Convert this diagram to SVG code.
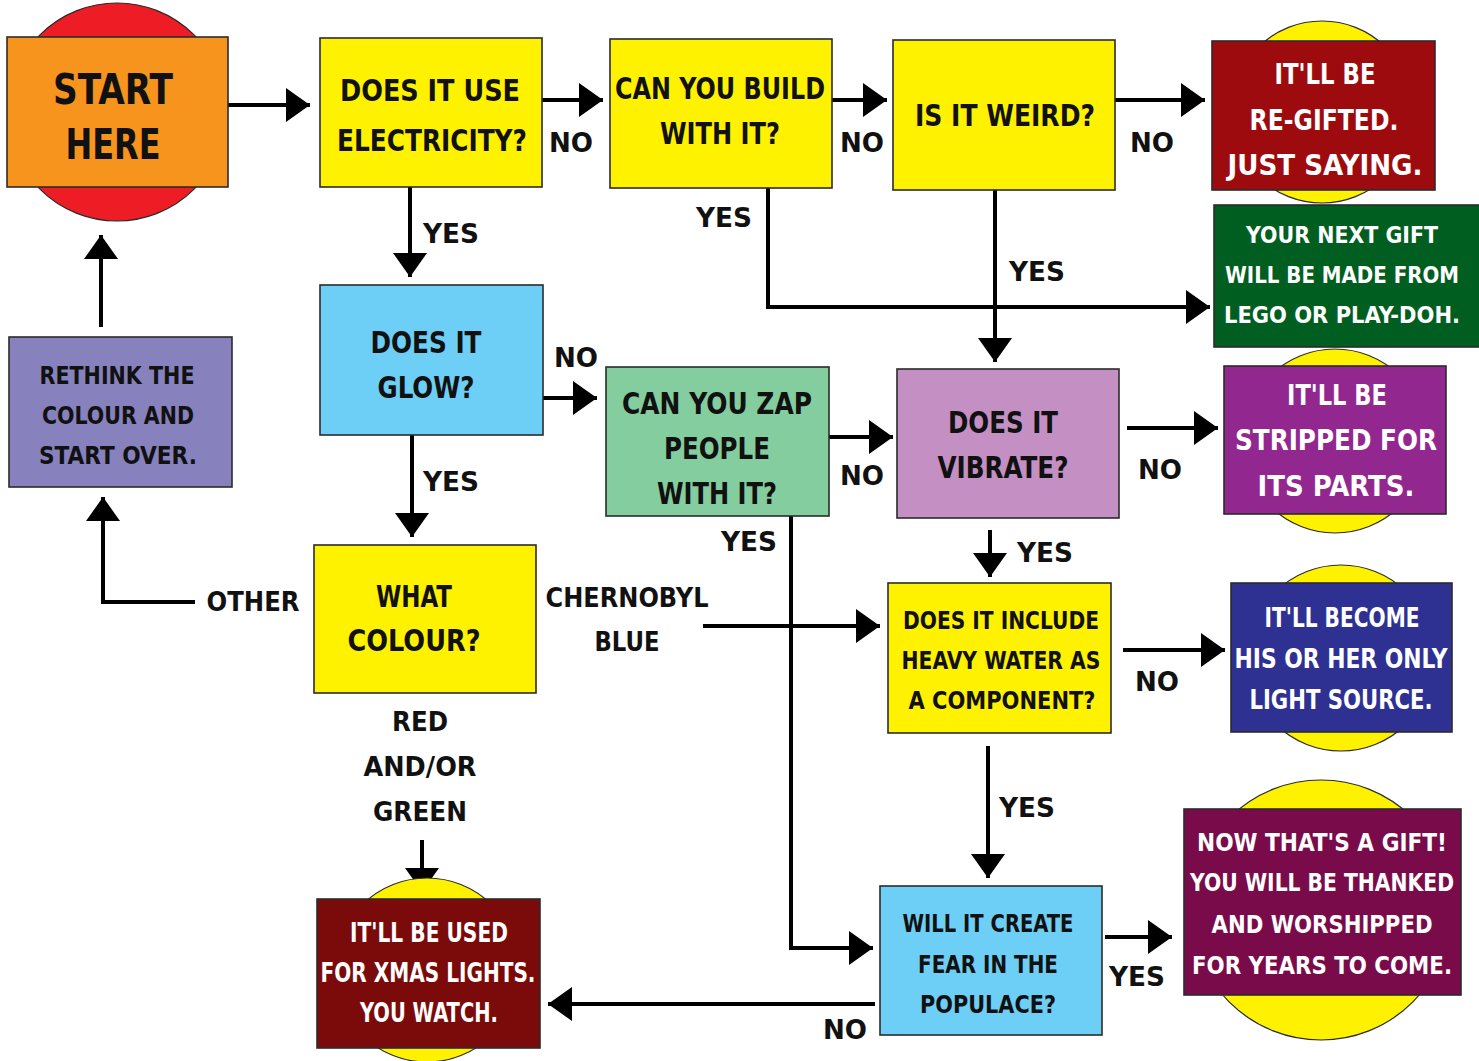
<svg xmlns="http://www.w3.org/2000/svg" width="1479" height="1061" viewBox="0 0 1479 1061">
<style>
  .box { stroke: #2b2b2b; stroke-width: 1.6; }
  .disc { stroke: #2b2b2b; stroke-width: 1.2; }
  .t { font-family: "DejaVu Sans Condensed", "DejaVu Sans", sans-serif; font-weight: bold; text-anchor: middle; dominant-baseline: central; fill: #111; }
  .w { fill: #ffffff; }
  .lbl { font-family: "DejaVu Sans Condensed", "DejaVu Sans", sans-serif; font-weight: bold; text-anchor: middle; dominant-baseline: central; fill: #111; font-size: 26px; }
  .c { fill: none; stroke: #000; stroke-width: 4; }
</style>
<defs>
  <marker id="ah" markerUnits="userSpaceOnUse" markerWidth="26" markerHeight="36" refX="24" refY="17" orient="auto">
    <path d="M0,0 L24,17 L0,34 z" fill="#000"/>
  </marker>
</defs>
<rect width="1479" height="1061" fill="#ffffff"/>

<!-- connectors -->
<g id="connectors">
  <line class="c" x1="228" y1="105" x2="310" y2="105" marker-end="url(#ah)"/>
  <line class="c" x1="542" y1="100" x2="603" y2="100" marker-end="url(#ah)"/>
  <line class="c" x1="832" y1="100" x2="887" y2="100" marker-end="url(#ah)"/>
  <line class="c" x1="1115" y1="100" x2="1205" y2="100" marker-end="url(#ah)"/>
  <polyline class="c" points="768,188 768,307 1210,307" marker-end="url(#ah)"/>
  <line class="c" x1="995" y1="190" x2="995" y2="362" marker-end="url(#ah)"/>
  <line class="c" x1="410" y1="187" x2="410" y2="277" marker-end="url(#ah)"/>
  <line class="c" x1="543" y1="398" x2="597" y2="398" marker-end="url(#ah)"/>
  <line class="c" x1="412" y1="435" x2="412" y2="537" marker-end="url(#ah)"/>
  <line class="c" x1="829" y1="437" x2="893" y2="437" marker-end="url(#ah)"/>
  <polyline class="c" points="791,516 791,948 873,948" marker-end="url(#ah)"/>
  <line class="c" x1="1127" y1="428" x2="1218" y2="428" marker-end="url(#ah)"/>
  <line class="c" x1="990" y1="530" x2="990" y2="577" marker-end="url(#ah)"/>
  <line class="c" x1="1123" y1="650" x2="1225" y2="650" marker-end="url(#ah)"/>
  <line class="c" x1="988" y1="746" x2="988" y2="878" marker-end="url(#ah)"/>
  <line class="c" x1="1105" y1="937" x2="1172" y2="937" marker-end="url(#ah)"/>
  <line class="c" x1="875" y1="1004" x2="548" y2="1004" marker-end="url(#ah)"/>
  <line class="c" x1="703" y1="626" x2="880" y2="626" marker-end="url(#ah)"/>
  <polyline class="c" points="195,602 103,602 103,497" marker-end="url(#ah)"/>
  <line class="c" x1="101" y1="327" x2="101" y2="235" marker-end="url(#ah)"/>
  <line class="c" x1="422" y1="840" x2="422" y2="892" marker-end="url(#ah)"/>

  <text class="lbl" x="571" y="143" textLength="44" lengthAdjust="spacingAndGlyphs">NO</text>
  <text class="lbl" x="862" y="143" textLength="44" lengthAdjust="spacingAndGlyphs">NO</text>
  <text class="lbl" x="1152" y="143" textLength="44" lengthAdjust="spacingAndGlyphs">NO</text>
  <text class="lbl" x="724" y="218" textLength="56" lengthAdjust="spacingAndGlyphs">YES</text>
  <text class="lbl" x="1037" y="272" textLength="56" lengthAdjust="spacingAndGlyphs">YES</text>
  <text class="lbl" x="451" y="234" textLength="56" lengthAdjust="spacingAndGlyphs">YES</text>
  <text class="lbl" x="576" y="358" textLength="44" lengthAdjust="spacingAndGlyphs">NO</text>
  <text class="lbl" x="451" y="482" textLength="56" lengthAdjust="spacingAndGlyphs">YES</text>
  <text class="lbl" x="862" y="476" textLength="44" lengthAdjust="spacingAndGlyphs">NO</text>
  <text class="lbl" x="749" y="542" textLength="56" lengthAdjust="spacingAndGlyphs">YES</text>
  <text class="lbl" x="1160" y="470" textLength="44" lengthAdjust="spacingAndGlyphs">NO</text>
  <text class="lbl" x="1045" y="553" textLength="56" lengthAdjust="spacingAndGlyphs">YES</text>
  <text class="lbl" x="1157" y="682" textLength="44" lengthAdjust="spacingAndGlyphs">NO</text>
  <text class="lbl" x="1027" y="808" textLength="56" lengthAdjust="spacingAndGlyphs">YES</text>
  <text class="lbl" x="1137" y="977" textLength="56" lengthAdjust="spacingAndGlyphs">YES</text>
  <text class="lbl" x="845" y="1030" textLength="44" lengthAdjust="spacingAndGlyphs">NO</text>
  <text class="lbl" x="253" y="602" textLength="93" lengthAdjust="spacingAndGlyphs">OTHER</text>
  <text class="lbl" x="627" y="598" textLength="163" lengthAdjust="spacingAndGlyphs">CHERNOBYL</text>
  <text class="lbl" x="627" y="642" textLength="65" lengthAdjust="spacingAndGlyphs">BLUE</text>
  <text class="lbl" x="420" y="722" textLength="56" lengthAdjust="spacingAndGlyphs">RED</text>
  <text class="lbl" x="420" y="767" textLength="113" lengthAdjust="spacingAndGlyphs">AND/OR</text>
  <text class="lbl" x="420" y="812" textLength="94" lengthAdjust="spacingAndGlyphs">GREEN</text>
</g>

<!-- start -->
<g id="start">
  <circle class="disc" cx="117" cy="112" r="109" fill="#EE1C25"/>
  <rect class="box" x="7" y="37" width="221" height="150" fill="#F7941D"/>
  <text class="t" x="113" y="89" font-size="42" textLength="120" lengthAdjust="spacingAndGlyphs">START</text>
  <text class="t" x="113" y="144" font-size="42" textLength="95" lengthAdjust="spacingAndGlyphs">HERE</text>
</g>

<g id="q-electricity">
  <rect class="box" x="320" y="38" width="222" height="149" fill="#FFF200"/>
  <text class="t" x="430" y="90" font-size="30" textLength="180" lengthAdjust="spacingAndGlyphs">DOES IT USE</text>
  <text class="t" x="432" y="140" font-size="30" textLength="190" lengthAdjust="spacingAndGlyphs">ELECTRICITY?</text>
</g>

<g id="q-build">
  <rect class="box" x="610" y="39" width="222" height="149" fill="#FFF200"/>
  <text class="t" x="720" y="88" font-size="30" textLength="210" lengthAdjust="spacingAndGlyphs">CAN YOU BUILD</text>
  <text class="t" x="720" y="133" font-size="30" textLength="120" lengthAdjust="spacingAndGlyphs">WITH IT?</text>
</g>

<g id="q-weird">
  <rect class="box" x="893" y="40" width="222" height="150" fill="#FFF200"/>
  <text class="t" x="1005" y="115" font-size="30" textLength="180" lengthAdjust="spacingAndGlyphs">IS IT WEIRD?</text>
</g>

<g id="end-regifted">
  <circle class="disc" cx="1322" cy="112" r="91" fill="#FFF200"/>
  <rect class="box" x="1212" y="41" width="223" height="149" fill="#9E0B0F"/>
  <text class="t w" x="1325" y="74" font-size="28" textLength="101" lengthAdjust="spacingAndGlyphs">IT'LL BE</text>
  <text class="t w" x="1324" y="120" font-size="28" textLength="149" lengthAdjust="spacingAndGlyphs">RE-GIFTED.</text>
  <text class="t w" x="1325" y="165" font-size="28" textLength="195" lengthAdjust="spacingAndGlyphs">JUST SAYING.</text>
</g>

<g id="end-lego">
  <rect class="box" x="1214" y="205" width="266" height="142" fill="#005E20"/>
  <text class="t w" x="1342" y="235" font-size="23" textLength="192" lengthAdjust="spacingAndGlyphs">YOUR NEXT GIFT</text>
  <text class="t w" x="1342" y="275" font-size="23" textLength="234" lengthAdjust="spacingAndGlyphs">WILL BE MADE FROM</text>
  <text class="t w" x="1342" y="315" font-size="23" textLength="236" lengthAdjust="spacingAndGlyphs">LEGO OR PLAY-DOH.</text>
</g>

<g id="q-glow">
  <rect class="box" x="320" y="285" width="223" height="150" fill="#6DCFF6"/>
  <text class="t" x="426" y="342" font-size="30" textLength="111" lengthAdjust="spacingAndGlyphs">DOES IT</text>
  <text class="t" x="426" y="387" font-size="30" textLength="97" lengthAdjust="spacingAndGlyphs">GLOW?</text>
</g>

<g id="q-zap">
  <rect class="box" x="606" y="367" width="223" height="149" fill="#84CD9E"/>
  <text class="t" x="717" y="403" font-size="30" textLength="190" lengthAdjust="spacingAndGlyphs">CAN YOU ZAP</text>
  <text class="t" x="717" y="448" font-size="30" textLength="106" lengthAdjust="spacingAndGlyphs">PEOPLE</text>
  <text class="t" x="717" y="493" font-size="30" textLength="120" lengthAdjust="spacingAndGlyphs">WITH IT?</text>
</g>

<g id="q-vibrate">
  <rect class="box" x="897" y="369" width="222" height="149" fill="#C490C3"/>
  <text class="t" x="1003" y="422" font-size="30" textLength="110" lengthAdjust="spacingAndGlyphs">DOES IT</text>
  <text class="t" x="1003" y="467" font-size="30" textLength="131" lengthAdjust="spacingAndGlyphs">VIBRATE?</text>
</g>

<g id="end-parts">
  <circle class="disc" cx="1335" cy="441" r="92" fill="#FFF200"/>
  <rect class="box" x="1224" y="366" width="222" height="148" fill="#92278F"/>
  <text class="t w" x="1337" y="395" font-size="29" textLength="100" lengthAdjust="spacingAndGlyphs">IT'LL BE</text>
  <text class="t w" x="1336" y="440" font-size="29" textLength="202" lengthAdjust="spacingAndGlyphs">STRIPPED FOR</text>
  <text class="t w" x="1336" y="486" font-size="29" textLength="157" lengthAdjust="spacingAndGlyphs">ITS PARTS.</text>
</g>

<g id="q-colour">
  <rect class="box" x="314" y="545" width="222" height="148" fill="#FFF200"/>
  <text class="t" x="414" y="596" font-size="30" textLength="76" lengthAdjust="spacingAndGlyphs">WHAT</text>
  <text class="t" x="414" y="640" font-size="30" textLength="133" lengthAdjust="spacingAndGlyphs">COLOUR?</text>
</g>

<g id="rethink">
  <rect class="box" x="9" y="337" width="223" height="150" fill="#8781BD"/>
  <text class="t" x="117" y="375" font-size="25" textLength="155" lengthAdjust="spacingAndGlyphs">RETHINK THE</text>
  <text class="t" x="118" y="415" font-size="25" textLength="152" lengthAdjust="spacingAndGlyphs">COLOUR AND</text>
  <text class="t" x="118" y="455" font-size="25" textLength="158" lengthAdjust="spacingAndGlyphs">START OVER.</text>
</g>

<g id="q-heavy-water">
  <rect class="box" x="888" y="583" width="223" height="150" fill="#FFF200"/>
  <text class="t" x="1001" y="620" font-size="25" textLength="196" lengthAdjust="spacingAndGlyphs">DOES IT INCLUDE</text>
  <text class="t" x="1001" y="660" font-size="25" textLength="199" lengthAdjust="spacingAndGlyphs">HEAVY WATER AS</text>
  <text class="t" x="1002" y="700" font-size="25" textLength="187" lengthAdjust="spacingAndGlyphs">A COMPONENT?</text>
</g>

<g id="end-light">
  <circle class="disc" cx="1341" cy="658" r="93" fill="#FFF200"/>
  <rect class="box" x="1231" y="583" width="221" height="149" fill="#2E3192"/>
  <text class="t w" x="1342" y="618" font-size="26" textLength="155" lengthAdjust="spacingAndGlyphs">IT'LL BECOME</text>
  <text class="t w" x="1341" y="659" font-size="26" textLength="213" lengthAdjust="spacingAndGlyphs">HIS OR HER ONLY</text>
  <text class="t w" x="1341" y="700" font-size="26" textLength="183" lengthAdjust="spacingAndGlyphs">LIGHT SOURCE.</text>
</g>

<g id="q-fear">
  <rect class="box" x="880" y="886" width="222" height="149" fill="#6DCFF6"/>
  <text class="t" x="988" y="923" font-size="25" textLength="171" lengthAdjust="spacingAndGlyphs">WILL IT CREATE</text>
  <text class="t" x="988" y="964" font-size="25" textLength="140" lengthAdjust="spacingAndGlyphs">FEAR IN THE</text>
  <text class="t" x="988" y="1004" font-size="25" textLength="136" lengthAdjust="spacingAndGlyphs">POPULACE?</text>
</g>

<g id="end-gift">
  <circle class="disc" cx="1321" cy="910" r="130" fill="#FFF200"/>
  <rect class="box" x="1184" y="809" width="277" height="186" fill="#7A0B4A"/>
  <text class="t w" x="1322" y="842" font-size="25" textLength="250" lengthAdjust="spacingAndGlyphs">NOW THAT'S A GIFT!</text>
  <text class="t w" x="1322" y="883" font-size="24" textLength="264" lengthAdjust="spacingAndGlyphs">YOU WILL BE THANKED</text>
  <text class="t w" x="1322" y="924" font-size="25" textLength="221" lengthAdjust="spacingAndGlyphs">AND WORSHIPPED</text>
  <text class="t w" x="1322" y="965" font-size="25" textLength="260" lengthAdjust="spacingAndGlyphs">FOR YEARS TO COME.</text>
</g>

<g id="end-xmas">
  <circle class="disc" cx="427" cy="970" r="92" fill="#FFF200"/>
  <rect class="box" x="317" y="899" width="223" height="149" fill="#7B0A0A"/>
  <text class="t w" x="429" y="933" font-size="26" textLength="158" lengthAdjust="spacingAndGlyphs">IT'LL BE USED</text>
  <text class="t w" x="428" y="973" font-size="26" textLength="215" lengthAdjust="spacingAndGlyphs">FOR XMAS LIGHTS.</text>
  <text class="t w" x="429" y="1013" font-size="26" textLength="138" lengthAdjust="spacingAndGlyphs">YOU WATCH.</text>
</g>
</svg>
